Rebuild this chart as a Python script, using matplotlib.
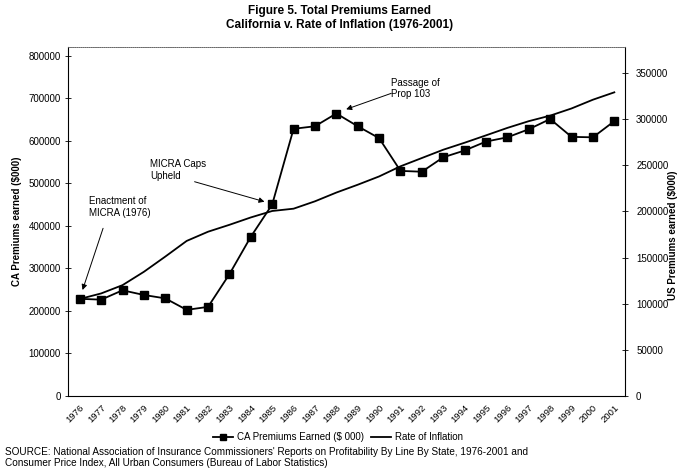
import matplotlib
matplotlib.use("Agg")
import matplotlib.pyplot as plt
from matplotlib.lines import Line2D

plt.rcParams['font.family'] = ['Liberation Sans', 'DejaVu Sans']

years = list(range(1976, 2002))
ca_premiums = [228000, 226000, 248000, 237000, 229000, 202000, 209000, 286000, 374000,
               450000, 628000, 634000, 664000, 634000, 606000, 529000, 527000, 561000,
               577000, 598000, 608000, 627000, 651000, 609000, 608000, 646000]
inflation = [105000, 111000, 120000, 134500, 151000, 168000, 178000, 185500, 193500,
             200500, 203000, 211000, 220500, 229000, 238000, 249000, 258000, 267000,
             274600, 282600, 290700, 298000, 304000, 311800, 321300, 329300]
left_ticks = [0, 100000, 200000, 300000, 400000, 500000, 600000, 700000, 800000]
right_ticks = [0, 50000, 100000, 150000, 200000, 250000, 300000, 350000]

fig = plt.figure(figsize=(6.79, 4.70), dpi=100)
ax = fig.add_axes([68/679, 1-395.7/470, (625-68)/679, (395.7-47)/470])
ax2 = ax.twinx()

ax.plot(years, ca_premiums, color='black', lw=1.3, marker='s', ms=5.3,
        markerfacecolor='black', markeredgecolor='black', zorder=3)
ax2.plot(years, inflation, color='black', lw=1.3, zorder=3)

ax.set_xlim(1975.45, 2001.5)
ax.set_ylim(0, 820500)
ax2.set_ylim(0, 378500)

ax.set_yticks(left_ticks)
ax.set_yticklabels([str(v) for v in left_ticks], fontsize=7)
ax2.set_yticks(right_ticks)
ax2.set_yticklabels([str(v) for v in right_ticks], fontsize=7)
ax.set_xticks(years)
ax.set_xticklabels([str(y) for y in years], rotation=45, ha='right',
                   rotation_mode='anchor', fontsize=6.8)
ax.tick_params(axis='x', length=0, pad=5)
ax.tick_params(axis='y', direction='inout', length=4, width=0.6, pad=3)
ax2.tick_params(axis='y', direction='inout', length=4, width=0.6, pad=6)

for a in (ax, ax2):
    a.spines['top'].set_linestyle((0, (1, 1.5)))
    a.spines['top'].set_color('#666666')
    a.spines['top'].set_linewidth(0.6)
ax.spines['left'].set_linewidth(0.7)
ax.spines['bottom'].set_linewidth(0.7)
ax2.spines['right'].set_linewidth(0.7)
ax2.spines['right'].set_linestyle((0, (2, 1)))

ax.set_ylabel('CA Premiums earned ($000)', fontsize=7, fontweight='bold', labelpad=5)
fig.text(677.5/679, 0.5, 'US Premiums earned ($000)', rotation=90, fontsize=7,
         fontweight='bold', ha='right', va='center')

fig.text(0.5, 1-11/470, 'Figure 5. Total Premiums Earned', ha='center', va='center',
         fontsize=8.5, fontweight='bold')
fig.text(0.5, 1-25/470, 'California v. Rate of Inflation (1976-2001)', ha='center',
         va='center', fontsize=8.5, fontweight='bold')

arrow = dict(arrowstyle='-|>', lw=0.7, color='black', mutation_scale=8, shrinkA=0, shrinkB=0)
ax.annotate('', xy=(1976.13, 248700), xytext=(1977.09, 393900), arrowprops=arrow)
ax.text(1976.45, 444700, 'Enactment of\nMICRA (1976)', fontsize=7, va='center',
        ha='left', linespacing=1.2)
ax.annotate('', xy=(1984.64, 456500), xytext=(1981.37, 503500), arrowprops=arrow)
ax.text(1979.3, 531000, 'MICRA Caps\nUpheld', fontsize=7, va='center',
        ha='left', linespacing=1.2)
ax.annotate('', xy=(1988.46, 673900), xytext=(1990.57, 711500), arrowprops=arrow)
ax.text(1990.57, 723000, 'Passage of\nProp 103', fontsize=7, va='center',
        ha='left', linespacing=1.2)

handles = [Line2D([], [], color='black', lw=1.3, marker='s', ms=5),
           Line2D([], [], color='black', lw=1.3)]
fig.legend(handles, ['CA Premiums Earned ($ 000)', 'Rate of Inflation'],
           loc='center', bbox_to_anchor=(338/679, 1-437/470), ncol=2, frameon=False,
           fontsize=7, handlelength=2.0, columnspacing=0.8, handletextpad=0.4)

fig.text(5/679, 1-452/470,
         "SOURCE: National Association of Insurance Commissioners' Reports on Profitability By Line By State, 1976-2001 and",
         fontsize=7.2, va='center', ha='left')
fig.text(5/679, 1-462.5/470,
         "Consumer Price Index, All Urban Consumers (Bureau of Labor Statistics)",
         fontsize=7.2, va='center', ha='left')

fig.savefig('out.png', dpi=100)
